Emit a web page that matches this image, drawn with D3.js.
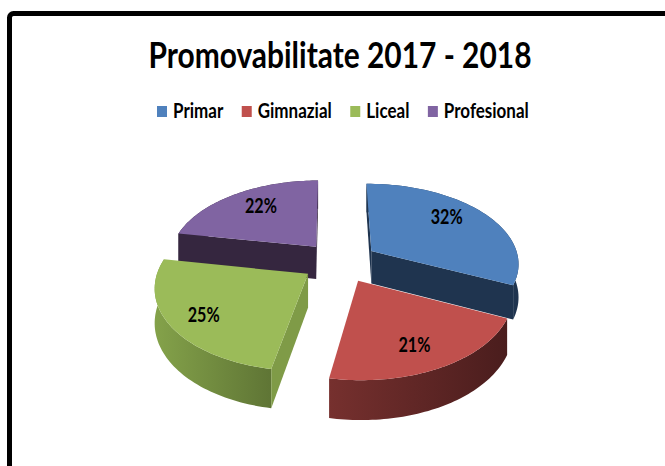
<!DOCTYPE html>
<html>
<head>
<meta charset="utf-8">
<script src="https://cdn.jsdelivr.net/npm/d3@7"></script>
<style>
  html, body { margin: 0; padding: 0; background: #fff; overflow: hidden; }
  text { font-family: Lato, "Open Sans", sans-serif; fill: #000; }
</style>
</head>
<body>
<div id="chart"></div>
<script>
const categories = ['Primar', 'Gimnazial', 'Liceal', 'Profesional'];
const values = [32, 21, 25, 22];
const topColors = ['#4f81bd', '#c0504d', '#9bbb59', '#8064a2'];
const wallColors = ['#1f344f', '#4e1f1f', '#7f9b47', '#35263f'];
const rimLight = ['#26405f', '#76302e', '#84a24a', '#35263f'];
const rimDark = ['#1f344f', '#4a1d1d', '#5f7535', '#35263f'];
const chartTitle = 'Promovabilitate 2017 - 2018';

const width = 665, height = 466;
const svg = d3.select('#chart').append('svg').attr('width', width).attr('height', height);
const defs = svg.append('defs');

// page frame, runs off the right and bottom of the picture
svg.append('rect')
  .attr('x', 9.5).attr('y', 13.5)
  .attr('width', 700).attr('height', 500)
  .attr('rx', 4)
  .attr('fill', '#fff').attr('stroke', '#000').attr('stroke-width', 5);

// fake 3D projection of the pie plane
const cx = 340, cy = 262;
const R = 148, explode = 38, thickness = 33;
const camera = 1052, tilt = 0.538;
const rotation = -0.008;

function project(X, Z, H) {
  const s = camera / (camera + Z);
  return [cx + X * s, cy - (Z * tilt + H) * s];
}

const pie = d3.pie().sort(null).startAngle(rotation).endAngle(2 * Math.PI + rotation);

const slices = pie(values).map((d, i) => {
  const mid = (d.startAngle + d.endAngle) / 2;
  const ox = explode * Math.sin(mid), oz = explode * Math.cos(mid);
  const steps = d3.range(0, 61).map(t => d.startAngle + (d.endAngle - d.startAngle) * t / 60);
  const onRim = (a, r, h) => project(ox + r * Math.sin(a), oz + r * Math.cos(a), h);
  return {
    i, mid, ox, oz, onRim,
    top: steps.map(a => onRim(a, R, 0)),
    bottom: steps.map(a => onRim(a, R, -thickness)),
    apexTop: onRim(0, 0, 0),
    apexBottom: onRim(0, 0, -thickness)
  };
});

const line = d3.line();
const closed = pts => line(pts) + 'Z';

// far slices are painted first
const drawOrder = slices.slice().sort((a, b) => b.oz - a.oz);

drawOrder.forEach(s => {
  const g = svg.append('g').attr('class', 'slice');
  const grad = defs.append('linearGradient')
    .attr('id', 'rim' + s.i)
    .attr('gradientUnits', 'userSpaceOnUse')
    .attr('x1', d3.min(s.bottom, p => p[0])).attr('x2', d3.max(s.bottom, p => p[0]))
    .attr('y1', 0).attr('y2', 0);
  grad.append('stop').attr('offset', 0).attr('stop-color', rimLight[s.i]);
  grad.append('stop').attr('offset', 1).attr('stop-color', rimDark[s.i]);

  g.append('path')
    .attr('d', closed(s.top.concat(s.bottom.slice().reverse())))
    .attr('fill', `url(#rim${s.i})`);

  // radial walls, only the ones that face the viewer
  const walls = [
    [s.apexTop, s.top[0], s.bottom[0], s.apexBottom],
    [s.top[s.top.length - 1], s.apexTop, s.apexBottom, s.bottom[s.bottom.length - 1]]
  ];
  walls.forEach(w => {
    if (d3.polygonArea(w) > 0) {
      g.append('path').attr('d', closed(w)).attr('fill', wallColors[s.i]);
    }
  });

  g.append('path')
    .attr('d', closed([s.apexTop].concat(s.top)))
    .attr('fill', topColors[s.i]);
});

// percentage labels sit on the top face of each slice, nudged by hand like the original
const labelRadius = 0.68 * R;
const labelNudge = [[-2, -8], [2, 7], [-13, 6], [2, -5]];
svg.append('g').selectAll('text')
  .data(slices)
  .join('text')
  .attr('transform', s => {
    const p = s.onRim(s.mid, labelRadius, 0);
    return `translate(${p[0] + labelNudge[s.i][0]},${p[1] + labelNudge[s.i][1]}) scale(0.95,1.2)`;
  })
  .attr('text-anchor', 'middle')
  .attr('dominant-baseline', 'central')
  .attr('font-size', 17)
  .attr('font-weight', 700)
  .text(s => values[s.i] + '%');

// title
svg.append('text')
  .attr('x', 340).attr('y', 68)
  .attr('text-anchor', 'middle')
  .attr('font-size', 36)
  .attr('font-weight', 700)
  .attr('textLength', 383)
  .attr('lengthAdjust', 'spacingAndGlyphs')
  .text(chartTitle);

// legend, laid out from left to right
const legend = svg.append('g').attr('class', 'legend');
let legendX = 157;
categories.forEach((c, i) => {
  legend.append('rect')
    .attr('x', legendX).attr('y', 106)
    .attr('width', 10).attr('height', 11)
    .attr('fill', topColors[i]);
  const label = legend.append('text')
    .attr('transform', `translate(${legendX + 16},118) scale(1,1.2)`)
    .attr('font-size', 17)
    .attr('font-weight', 700)
    .text(c);
  legendX += 16 + label.node().getComputedTextLength() + 18.5;
});
</script>
</body>
</html>
